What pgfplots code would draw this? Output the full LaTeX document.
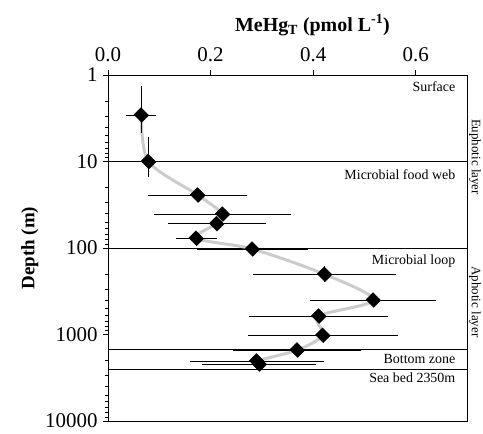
\documentclass[border=0pt]{standalone}
\usepackage{fontspec}
\setmainfont{Liberation Serif}
\usepackage{pgfplots}
\pgfplotsset{compat=1.18}

\begin{document}
\begin{tikzpicture}
\begin{axis}[
    scale only axis,
    width=359bp, height=346bp,
    xmin=0, xmax=0.7,
    ymode=log, ymin=1, ymax=10000,
    y dir=reverse,
    clip=false,
    axis line style={line width=0.9pt},
    tick style={black, line width=0.8pt},
    tick align=outside,
    major tick length=5bp,
    minor tick length=3bp,
    xtick={0,0.2,0.4,0.6},
    xticklabels={\textrm{0.0},\textrm{0.2},\textrm{0.4},\textrm{0.6}},
    xtick pos=upper,
    xticklabel pos=upper,
    ytick={1,10,100,1000,10000},
    yticklabels={\textrm{1},\textrm{10},\textrm{100},\textrm{1000},\textrm{10000}},
    ytick pos=left,
    tick label style={font=\fontsize{21}{24}\selectfont},
    xticklabel style={yshift=5bp},
    yticklabel style={xshift=-2bp},
    xlabel={\textbf{MeHg\textsubscript{T} (pmol L\textsuperscript{-1})}},
    xlabel style={font=\fontsize{20}{22}\selectfont, xshift=25bp, yshift=5bp},
    ylabel={\textbf{Depth (m)}},
    ylabel style={font=\fontsize{19}{22}\selectfont},
]
% zone boundaries
\addplot[black, line width=0.8pt] coordinates {(0,10) (0.7,10)};
\addplot[black, line width=0.8pt] coordinates {(0,100) (0.7,100)};
\addplot[black, line width=0.8pt] coordinates {(0,1500) (0.7,1500)};
\addplot[black, line width=0.8pt] coordinates {(0,2500) (0.7,2500)};

% profile curve
\addplot[smooth, gray!40, line width=3pt] coordinates {
    (0.065,2.9) (0.079,10) (0.175,24.4) (0.2235,40.4) (0.212,52.4)
    (0.172,77.2) (0.2815,102.7) (0.4223,201) (0.5175,399) (0.411,611)
    (0.419,1021) (0.369,1511) (0.29,2025) (0.295,2193)
};

% measurements
\addplot[black, only marks, mark=square*, mark size=5pt,
    mark options={rotate=45, yscale=1.1},
    error bars/.cd, x dir=both, x explicit, y dir=both, y explicit,
    error bar style={line width=0.8pt},
    error mark options={black, mark size=3pt, line width=0.8pt}]
coordinates {
    (0.065,2.9) += (0.023,1.42) -= (0.024,1.44)
    (0.079,10) += (0.032,4.1) -= (0.034,4.4)
    (0.175,24.4) +- (0.091,0)
    (0.2235,40.4) +- (0.128,0)
    (0.212,52.4) +- (0.090,0)
    (0.172,77.2) +- (0.034,0)
    (0.2815,102.7) +- (0.102,0)
    (0.4223,201) +- (0.134,25)
    (0.5175,399) +- (0.117,40)
    (0.411,611) +- (0.130,0)
    (0.419,1021) +- (0.140,0)
    (0.369,1511) +- (0.119,0)
    (0.29,2025) +- (0.125,0)
    (0.295,2193) +- (0.105,0)
};

\begin{scope}[font=\fontsize{14}{16}\selectfont]
\node[anchor=east] at (axis cs:0.684,1.38) {Surface};
\node[anchor=east] at (axis cs:0.684,14.3) {Microbial food web};
\node[anchor=east] at (axis cs:0.684,141) {Microbial loop};
\node[anchor=east] at (axis cs:0.684,1920) {Bottom zone};
\node[anchor=east] at (axis cs:0.684,3184) {Sea bed 2350m};
\end{scope}
\begin{scope}[font=\fontsize{13}{15}\selectfont]
\node[rotate=-90] at (axis cs:0.7155,8.87) {Euphotic layer};
\node[rotate=-90] at (axis cs:0.7155,421) {Aphotic layer};
\end{scope}
\end{axis}
\pgfresetboundingbox
\path (current axis.south west) ++(-108bp,-12bp) coordinate (bbl);
\path (current axis.north east) ++(16bp,75bp) coordinate (bbr);
\path[use as bounding box] (bbl) rectangle (bbr);
\end{tikzpicture}
\end{document}
